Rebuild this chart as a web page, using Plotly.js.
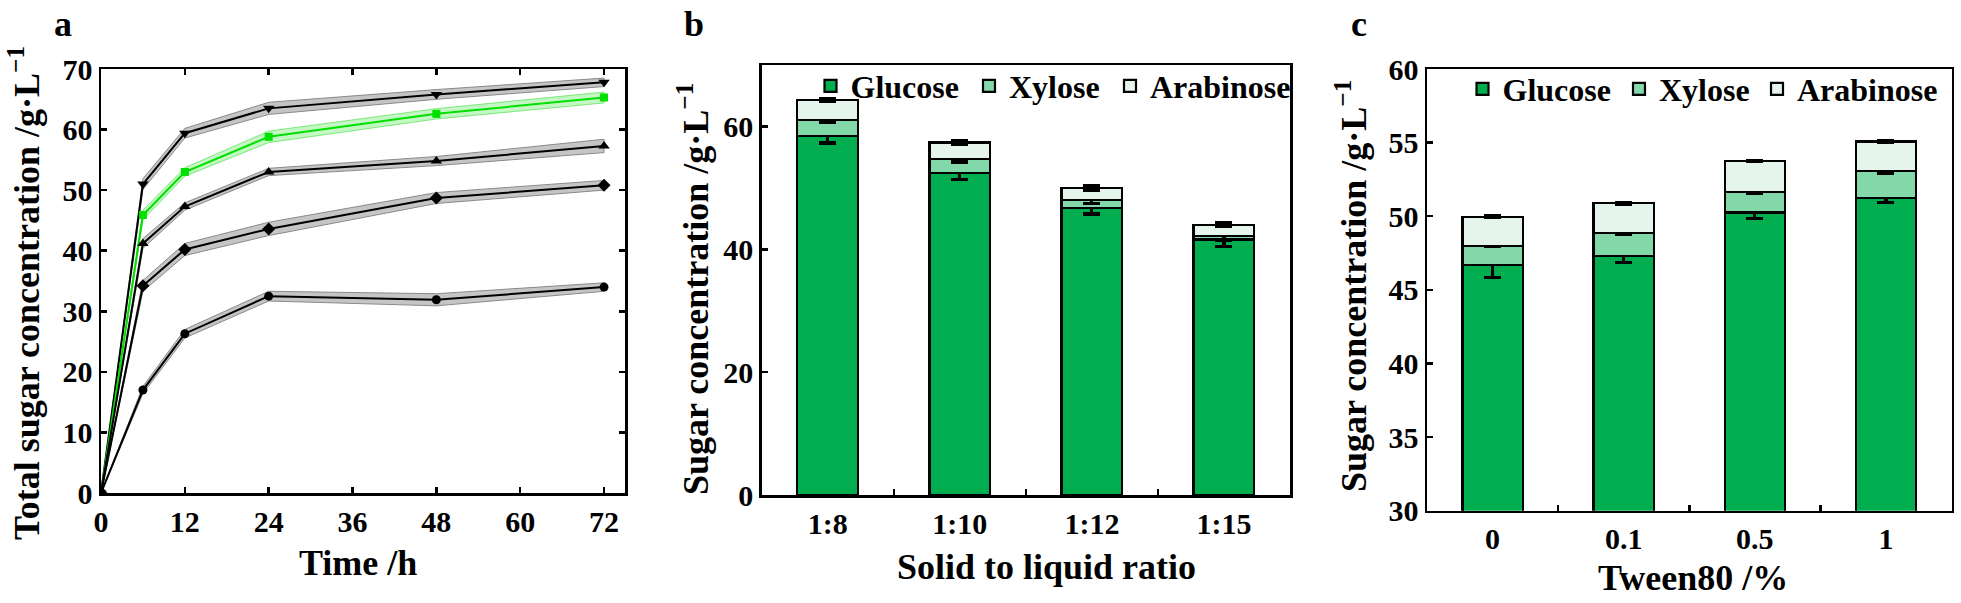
<!DOCTYPE html>
<html><head><meta charset="utf-8">
<script src="https://cdn.plot.ly/plotly-3.0.1.min.js"></script>
<style>html,body{margin:0;padding:0;background:#fff}#chart{width:1961px;height:603px}</style>
</head><body><div id="chart"></div>
<script>
// ---- Panel a data (Total sugar vs time) ----
const timeH = [0, 6, 12, 24, 48, 72];
const seriesDown = [0, 51.0, 59.4, 63.5, 65.8, 67.8];
const errDown = [0, 0.9, 0.8, 1.0, 0.8, 0.7];
const seriesGreen = [0, 45.9, 53.0, 58.8, 62.6, 65.3];
const errGreen = [0, 0.8, 0.7, 0.95, 0.85, 0.9];
const seriesUp = [0, 41.2, 47.3, 53.0, 54.8, 57.3];
const errUp = [0, 0.8, 0.6, 0.6, 0.75, 1.1];
const seriesDiamond = [0, 34.2, 40.2, 43.6, 48.7, 50.8];
const errDiamond = [0, 0.9, 1.0, 1.1, 0.9, 0.8];
const seriesCircle = [0, 17.0, 26.3, 32.5, 31.9, 34.0];
const errCircle = [0, 0.6, 0.7, 0.8, 1.0, 0.7];
const timeTicks = [0, 12, 24, 36, 48, 60, 72];

// ---- Panel b data (solid to liquid ratio) ----
const ratioCats = ['1:8', '1:10', '1:12', '1:15'];
const bGlucose = [58.4, 52.4, 46.7, 41.6];
const bGlucoseErr = [1.1, 1.0, 0.95, 1.1];
const bXylose = [2.7, 2.3, 1.3, 0.5];
const bXyloseErr = [0.5, 0.5, 0.5, 0.6];
const bArabinose = [3.2, 2.7, 2.0, 1.9];
const bArabinoseErr = [0.3, 0.3, 0.35, 0.3];

// ---- Panel c data (Tween80) ----
const tweenCats = ['0', '0.1', '0.5', '1'];
const cGlucose = [46.69, 47.3, 50.25, 51.26];
const cGlucoseErr = [0.85, 0.42, 0.43, 0.33];
const cXylose = [1.31, 1.54, 1.38, 1.82];
const cXyloseErr = [0.08, 0.08, 0.08, 0.15];
const cArabinose = [1.97, 2.04, 2.13, 1.99];
const cArabinoseErr = [0.05, 0.05, 0.05, 0.05];

const W = 1961, H = 603;
const px = v => v / W;
const py = v => 1 - v / H;
const FONT = 'Liberation Serif, Times New Roman, serif';

const traces = [];
function band(y, e, fill, edge) {
  const up = y.map((v, i) => v + e[i]);
  const lo = y.map((v, i) => v - e[i]);
  traces.push({
    x: timeH.concat(timeH.slice().reverse()),
    y: up.concat(lo.slice().reverse()),
    xaxis: 'x', yaxis: 'y', type: 'scatter', mode: 'lines',
    fill: 'toself', fillcolor: fill, line: {color: edge, width: 1},
    showlegend: false, hoverinfo: 'skip'
  });
}
const grayFill = 'rgba(140,140,140,0.5)', grayEdge = '#8a8a8a';
band(seriesDown, errDown, grayFill, grayEdge);
band(seriesGreen, errGreen, 'rgba(60,230,60,0.3)', 'rgba(60,220,60,0.6)');
band(seriesUp, errUp, grayFill, grayEdge);
band(seriesDiamond, errDiamond, grayFill, grayEdge);
band(seriesCircle, errCircle, grayFill, grayEdge);

function line(y, sym, color, size) {
  traces.push({
    x: timeH, y: y, xaxis: 'x', yaxis: 'y', type: 'scatter', mode: 'lines+markers',
    line: {color: color, width: 2},
    marker: {symbol: sym, color: color, size: size},
    showlegend: false
  });
}
line(seriesDown, 'triangle-down', '#000', 10);
line(seriesGreen, 'square', '#00e000', 8);
line(seriesUp, 'triangle-up', '#000', 10);
line(seriesDiamond, 'diamond', '#000', 10);
line(seriesCircle, 'circle', '#000', 9);

const cG = '#00ad4f', cX = '#82d8a8', cA = '#e5f5ec';
function bar(x, y, err, name, color, xa, ya, leg) {
  traces.push({
    type: 'bar', x: x, y: y, name: name, xaxis: xa, yaxis: ya, legend: leg,
    width: 0.46,
    marker: {color: color, line: {color: '#000', width: 2.2}},
    error_y: {type: 'data', array: err, visible: true, color: '#000', thickness: 3.2, width: 8.5}
  });
}
bar(ratioCats, bGlucose, bGlucoseErr, 'Glucose', cG, 'x2', 'y2', 'legend');
bar(ratioCats, bXylose, bXyloseErr, 'Xylose', cX, 'x2', 'y2', 'legend2');
bar(ratioCats, bArabinose, bArabinoseErr, 'Arabinose', cA, 'x2', 'y2', 'legend3');
bar(tweenCats, cGlucose, cGlucoseErr, 'Glucose', cG, 'x3', 'y3', 'legend4');
bar(tweenCats, cXylose, cXyloseErr, 'Xylose', cX, 'x3', 'y3', 'legend5');
bar(tweenCats, cArabinose, cArabinoseErr, 'Arabinose', cA, 'x3', 'y3', 'legend6');

const axBase = {
  showline: true, linecolor: '#000', linewidth: 2.5,
  ticks: 'inside', ticklen: 6, tickwidth: 2.5, tickcolor: '#000',
  showgrid: false, zeroline: false, fixedrange: true,
  tickfont: {family: FONT, size: 30, color: '#000', weight: 'bold'}
};

function ann(text, x, y, size, angle) {
  return {
    text: text, xref: 'paper', yref: 'paper', x: px(x), y: py(y),
    xanchor: 'center', yanchor: 'middle', showarrow: false, textangle: angle || 0,
    font: {family: FONT, size: size, color: '#000', weight: 'bold'}
  };
}

// legend symbol centre positions (px) in the reference
const LEG_OFF = 21;
function leg(cx, cy) {
  return {
    orientation: 'h', yanchor: 'middle', xanchor: 'left', traceorder: 'normal',
    bgcolor: 'rgba(0,0,0,0)', borderwidth: 0, x: px(cx - LEG_OFF), y: py(cy),
    font: {family: FONT, size: 32, color: '#000', weight: 'bold'}
  };
}

const layout = {
  width: W, height: H, margin: {l: 0, r: 0, t: 0, b: 0},
  paper_bgcolor: '#fff', plot_bgcolor: '#fff',
  font: {family: FONT, color: '#000', weight: 'bold'},
  barmode: 'stack', showlegend: true,
  xaxis: Object.assign({}, axBase, {domain: [px(101), px(625)], range: [0, 75], tickvals: timeTicks, mirror: 'ticks', anchor: 'y'}),
  yaxis: Object.assign({}, axBase, {domain: [py(493), py(69)], range: [0, 70], dtick: 10, mirror: 'ticks', anchor: 'x'}),
  xaxis2: Object.assign({}, axBase, {domain: [px(761.7), px(1290)], type: 'category', range: [-0.5, 3.5], tickson: 'boundaries', mirror: true, anchor: 'y2'}),
  yaxis2: Object.assign({}, axBase, {domain: [py(495), py(65)], range: [0, 70], tickvals: [0, 20, 40, 60], mirror: true, anchor: 'x2'}),
  xaxis3: Object.assign({}, axBase, {domain: [px(1427), px(1951.5)], type: 'category', range: [-0.5, 3.5], tickson: 'boundaries', mirror: true, anchor: 'y3'}),
  yaxis3: Object.assign({}, axBase, {domain: [py(510.7), py(69)], range: [30, 60], dtick: 5, mirror: true, anchor: 'x3'}),
  legend: leg(831.5, 86),
  legend2: leg(990, 86),
  legend3: leg(1131, 86),
  legend4: leg(1483.5, 89),
  legend5: leg(1640, 89),
  legend6: leg(1778, 89),
  annotations: [
    ann('a', 63, 24, 36), ann('b', 694, 24, 36), ann('c', 1359, 24, 36),
    ann('Time /h', 358, 563, 36),
    ann('Solid to liquid ratio', 1046, 567, 36),
    ann('Tween80 /%', 1693, 578, 36),
    ann('Total sugar concentration /g·L<sup>−1</sup>', 24, 293, 36, -90),
    ann('Sugar concentration /g·L<sup>−1</sup>', 694, 289, 36, -90),
    ann('Sugar concentration /g·L<sup>−1</sup>', 1351, 286, 36, -90)
  ]
};

Plotly.newPlot('chart', traces, layout, {staticPlot: true, displayModeBar: false});
</script>
</body></html>
